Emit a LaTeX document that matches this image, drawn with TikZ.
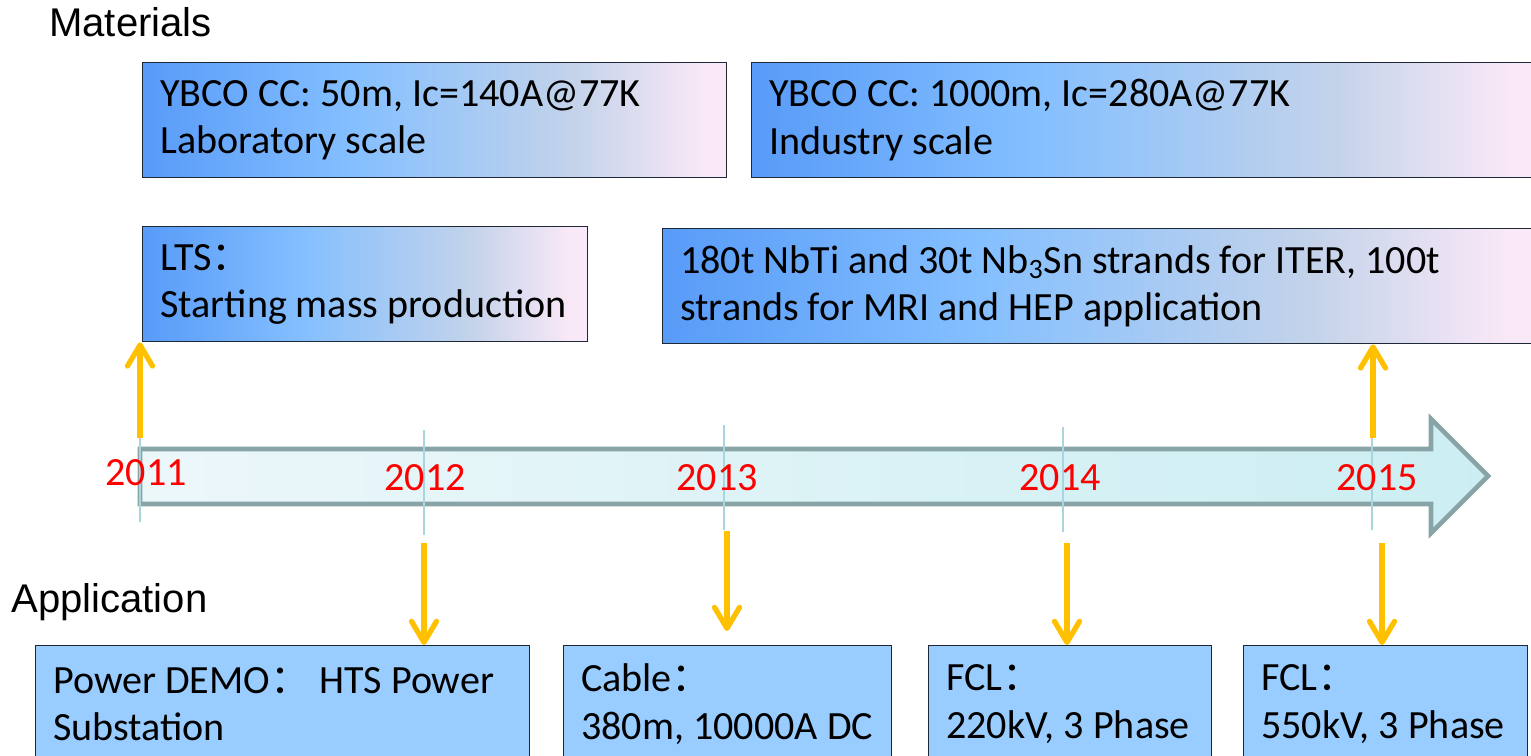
\documentclass[tikz,border=0pt]{standalone}
\usepackage{fontspec}
\setmainfont{Carlito}
\newfontfamily\headfont{Liberation Sans}
\newfontfamily\cjk{Noto Sans CJK SC}
\usepackage{tikz}
\usetikzlibrary{arrows.meta,positioning,calc}
\definecolor{matA}    {RGB}{88,155,248}
\definecolor{matB}    {RGB}{132,191,255}
\definecolor{matC}    {RGB}{196,211,234}
\definecolor{matD}    {RGB}{249,232,247}
\definecolor{appblue} {RGB}{153,204,255}
\definecolor{boxedge} {RGB}{30,40,55}
\definecolor{lineL}   {RGB}{236,247,250}
\definecolor{lineR}   {RGB}{204,238,242}
\definecolor{lineedge}{RGB}{136,164,166}
\definecolor{tickcol} {RGB}{168,214,220}
\definecolor{arrgold} {RGB}{255,192,0}
\pgfdeclarehorizontalshading{matshade}{100bp}{color(0bp)=(matA); color(25bp)=(matA);
  color(43bp)=(matB); color(62bp)=(matC); color(73bp)=(matD); color(100bp)=(matD)}
\tikzset{
  txt/.style    ={font=\fontsize{22.8pt}{27pt}\selectfont},
  matbox/.style ={txt, shade, shading=matshade, draw=boxedge, line width=0.8pt,
                  anchor=north west, minimum height=2.3cm, text width=#1,
                  align=flush left, inner xsep=0.35cm},
  appbox/.style ={txt, fill=appblue, draw=boxedge, line width=0.8pt,
                  anchor=north west, minimum height=2.34cm, text width=#1,
                  align=flush left, inner xsep=0.35cm},
  headlbl/.style={font=\headfont\fontsize{22.8pt}{26.8pt}\selectfont,
                  anchor=west, inner sep=0pt},
  yearlbl/.style={txt, text=red, inner sep=0pt},
  tickln/.style ={draw=tickcol, line width=1pt},
  arr/.style    ={-{Straight Barb[length=0.42cm,width=0.5cm,round]},
                  draw=arrgold, line width=3pt},
}
\begin{document}
\begin{tikzpicture}[x=0.02cm, y=-0.02cm]
  \useasboundingbox (0,0) rectangle (1531,756);

  % headings
  \node[headlbl] (mat) at (49,22) {Materials};
  \node[headlbl] (app) at (11,602) {Application};

  % materials
  \node[matbox=10.98cm] (ybcoa) at (142,62)
        {YBCO CC: 50m, Ic=140A@77K\\Laboratory scale};
  \node[matbox=15.08cm] (ybcob) at (751,62)
        {YBCO CC: 1000m, Ic=280A@77K\\Industry scale};
  \node[matbox=8.2cm] (lts) at (142,226)
        {LTS{\cjk ：}\\\mbox{Starting mass production}};
  \node[matbox=16.86cm] (iter) at (662,228)
        {180t NbTi and 30t Nb\textsubscript{3}Sn strands for ITER, 100t\\
         strands for MRI and HEP application};

  % time line
  \path[draw=lineedge, line width=2.6pt, left color=lineL, right color=lineR]
        (140,449) -- (1431,449) -- (1431,419) -- (1488,476) -- (1431,533)
        -- (1431,504) -- (140,504) -- cycle;
  \foreach \yr/\tx/\lx/\ly/\ta/\tb in {2011/140/146/473/433/522,
      2012/424/425/478/430/535, 2013/724/717/478/425/530,
      2014/1063/1060/478/427/532, 2015/1372/1377/478/430/530}{
    \draw[tickln] (\tx,\ta) coordinate (t\yr a) -- (\tx,\tb) coordinate (t\yr b);
    \node[yearlbl] (y\yr) at (\lx,\ly) {\yr};
  }

  % application
  \node[appbox=9.18cm] (demo) at (35,645)
        {Power DEMO{\cjk ：}\ HTS Power\\Substation};
  \node[appbox=5.86cm] (cable) at (563,645)
        {Cable{\cjk ：}\\\mbox{380m, 10000A DC}};
  \node[appbox=4.96cm] (fcla) at (928,645)
        {FCL{\cjk ：}\\\mbox{220kV, 3 Phase}};
  \node[appbox=4.98cm] (fclb) at (1243,645)
        {FCL{\cjk ：}\\\mbox{550kV, 3 Phase}};

  % arrows
  \coordinate (up11) at (140,438);
  \coordinate (up15) at (1373,438);
  \coordinate (dn12) at (424,543);
  \coordinate (dn13) at (727,531);
  \coordinate (dn14) at (1067,543);
  \coordinate (dn15) at (1382,543);
  \draw[arr] (up11) -- (up11 |- lts.south);
  \draw[arr] (up15) -- (up15 |- iter.south);
  \draw[arr] (dn12) -- (dn12 |- demo.north);
  \draw[arr, shorten >=0.28cm] (dn13) -- (dn13 |- cable.north);
  \draw[arr] (dn14) -- (dn14 |- fcla.north);
  \draw[arr] (dn15) -- (dn15 |- fclb.north);
\end{tikzpicture}
\end{document}
